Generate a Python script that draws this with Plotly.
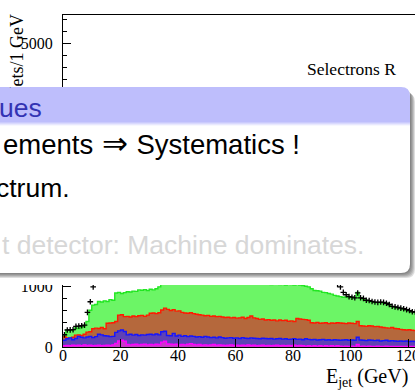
import plotly.graph_objects as go

# ---------------------------------------------------------------- data
# 1 GeV bins, bin i covers [i, i+1)
green_bkg = [180, 280, 275, 285, 315, 305, 330, 355, 420, 605,
             690, 700, 750, 740, 760, 750, 780, 770, 890, 900,
             880, 895, 910, 905, 920, 915, 940, 935, 945, 930,
             950, 940, 960, 990, 1040, 1080, 1110, 1060, 1120, 1090,
             1130, 1100, 1140, 1120, 1150, 1110, 1160, 1130, 1150, 1120,
             1140, 1160, 1130, 1150, 1120, 1140, 1110, 1130, 1100, 1120,
             1090, 1110, 1080, 1100, 1070, 1090, 1060, 1080, 1050, 1070,
             1040, 1060, 1030, 1050, 1040, 1030, 1050, 1020, 1040, 1030,
             1020, 1035, 1020, 1010, 1000, 990, 960, 930, 925, 920,
             900, 895, 880, 870, 850, 840, 830, 820, 825, 815,
             820, 810, 900, 810, 790, 765, 760, 745, 735, 730,
             735, 725, 715, 695, 665, 655, 645, 635, 625, 610,
             595, 575, 570]

red_bkg = [170, 150, 145, 160, 195, 200, 190, 210, 245, 250,
           300, 310, 305, 320, 300, 390, 395, 400, 420, 525,
           530, 500, 505, 495, 510, 500, 515, 520, 505, 525,
           555, 560, 550, 565, 610, 640, 620, 600, 615, 590,
           595, 570, 560, 555, 565, 550, 540, 530, 525, 515,
           520, 505, 510, 500, 505, 495, 485, 490, 480, 485,
           475, 480, 490, 470, 485, 510, 480, 470, 455, 460,
           445, 450, 440, 445, 430, 445, 435, 440, 425, 430,
           420, 470, 460, 455, 450, 440, 400, 395, 405, 390,
           395, 400, 385, 395, 390, 400, 395, 390, 385, 395,
           390, 385, 420, 350, 345, 340, 350, 345, 335, 340,
           330, 320, 315, 310, 320, 305, 300, 290, 285, 280,
           285, 275, 270]

blue_bkg = [110, 135, 150, 120, 140, 175, 160, 150, 165, 175,
            155, 170, 210, 200, 185, 180, 170, 175, 240, 265,
            280, 255, 200, 210, 195, 205, 190, 200, 195, 205,
            210, 200, 215, 200, 250, 260, 190, 185, 225, 180,
            195, 175, 185, 170, 180, 175, 165, 170, 160, 175,
            165, 155, 160, 150, 165, 155, 145, 150, 155, 145,
            150, 140, 155, 145, 140, 150, 145, 140, 135, 145,
            140, 135, 140, 130, 135, 140, 130, 135, 125, 130,
            135, 125, 130, 120, 135, 125, 120, 125, 115, 120,
            125, 115, 120, 110, 120, 115, 110, 115, 120, 110,
            115, 110, 160, 115, 110, 105, 115, 110, 105, 110,
            100, 105, 110, 100, 105, 100, 95, 100, 95, 100,
            90, 95, 90]

magenta_bkg = [20, 25, 20, 30, 25, 30, 20, 35, 25, 30,
               20, 25, 30, 20, 25, 30, 25, 35, 60, 100,
               110, 95, 40, 35, 40, 45, 35, 40, 45, 35,
               40, 35, 45, 40, 80, 95, 50, 45, 40, 45,
               35, 40, 35, 45, 55, 40, 35, 40, 30, 35,
               30, 35, 40, 30, 35, 30, 25, 30, 35, 25,
               30, 25, 30, 25, 35, 25, 30, 20, 25, 30,
               20, 25, 20, 25, 30, 20, 25, 20, 25, 20,
               30, 20, 25, 20, 15, 20, 15, 20, 15, 20,
               15, 20, 15, 20, 15, 20, 15, 10, 15, 10,
               15, 10, 40, 10, 15, 10, 15, 10, 10, 15,
               10, 10, 15, 10, 10, 10, 10, 10, 10, 10,
               10, 10, 10]

data_points = [200, 280, 282, 285, 340, 345, 350, 360, 570, 745,
               990, 1350, 1780, 2150, 2480, 2760, 2950, 3120, 3260, 3330,
               3410, 3380, 3450, 3420, 3480, 3440, 3510, 3470, 3530, 3490,
               3560, 3520, 3540, 3580, 3550, 3600, 3570, 3610, 3580, 3620,
               3590, 3570, 3610, 3560, 3600, 3550, 3580, 3530, 3560, 3510,
               3540, 3490, 3520, 3470, 3500, 3450, 3470, 3420, 3440, 3400,
               3410, 3370, 3380, 3340, 3350, 3300, 3310, 3260, 3270, 3220,
               3230, 3180, 3190, 3140, 3130, 3090, 3070, 3020, 2980, 2920,
               2850, 2760, 2650, 2520, 2370, 2210, 2040, 1870, 1700, 1560,
               1430, 1320, 1220, 1140, 1080, 1030, 990, 900, 860, 830,
               820, 810, 890, 810, 800, 770, 765, 750, 740, 735,
               740, 735, 720, 700, 670, 660, 650, 640, 630, 615,
               600, 580, 575]

x_ticks = [0, 20, 40, 60, 80, 100, 120]
y_ticks = [0, 1000, 2000, 3000, 4000, 5000]

block_title = "ues"
block_lines = ["ements<span style='font-size:31px'> \u21d2 </span>Systematics !",
               "ctrum."]
block_faded = "t detector: Machine dominates."

# ---------------------------------------------------------------- geometry helpers
W, H = 415, 392
ML, MR, MT, MB = 63, 0, 15, 45
PW, PH = W - ML - MR, H - MT - MB
X_MAX = PW / 2.875
Y_MAX = PH / 60.74 * 1000


def px(x):
    return (x - ML) / PW


def py(y):
    return (H - MB - y) / PH


fig = go.Figure()

# histograms drawn back to front
hists = [
    (green_bkg, "#6CF566", "#22E622"),
    (red_bkg, "#B5683C", "#FF1A00"),
    (blue_bkg, "#5E42B4", "#1515FF"),
    (magenta_bkg, "#C838C8", "#FF00FF"),
]
for vals, fillc, linec in hists:
    n = len(vals)
    fig.add_trace(go.Scatter(
        x=list(range(n)) + [n], y=vals + [vals[-1]],
        mode="lines", line=dict(shape="hv", color=linec, width=1.4),
        fill="tozeroy", fillcolor=fillc, hoverinfo="skip"))

fig.add_trace(go.Scatter(
    x=[i + 0.5 for i in range(len(data_points))], y=data_points,
    mode="markers",
    marker=dict(symbol="cross-thin", size=4, color="black",
                line=dict(width=1.3, color="black"))))

serif = "Liberation Serif"
sans = "Liberation Sans"

fig.update_layout(
    width=W, height=H, margin=dict(l=ML, r=MR, t=MT, b=MB, pad=0, autoexpand=False),
    paper_bgcolor="white", plot_bgcolor="white", showlegend=False,
    font=dict(family=serif, color="black"),
    xaxis=dict(range=[0, X_MAX], showline=True, linecolor="black", linewidth=1,
               mirror=True, ticks="inside", ticklen=8, tickcolor="black",
               tickvals=x_ticks, ticktext=[str(v) for v in x_ticks],
               tickfont=dict(family=serif, size=16, color="black"),
               ticklabeloverflow="allow", automargin=False,
               showgrid=False, zeroline=False, ticklabelstandoff=-6),
    yaxis=dict(range=[0, Y_MAX], showline=True, linecolor="black", linewidth=1,
               ticks="inside", ticklen=8, tickcolor="black",
               tickvals=y_ticks, ticktext=[str(v) for v in y_ticks],
               tickfont=dict(family=serif, size=16, color="black"),
               minor=dict(dtick=200, ticks="inside", ticklen=4, tickcolor="black"),
               ticklabeloverflow="allow", automargin=False,
               showgrid=False, zeroline=False, ticklabelstandoff=6),
)

# ---------------------------------------------------------------- overlay block
BL, BR, BT, BB, RAD = -40, 410, 87, 273, 9
HEAD_B = 122
lavender = "rgb(190,190,252)"


def rounded_path(l, r, t, b, rad):
    return (f"M {px(l)},{py(t)} L {px(r - rad)},{py(t)} "
            f"Q {px(r)},{py(t)} {px(r)},{py(t + rad)} "
            f"L {px(r)},{py(b - rad)} Q {px(r)},{py(b)} {px(r - rad)},{py(b)} "
            f"L {px(l)},{py(b)} Z")


shapes = []
# white strip under the block
shapes.append(dict(type="rect", xref="paper", yref="paper", layer="above",
                   x0=px(-5), x1=px(W + 5), y0=py(BB), y1=py(285),
                   fillcolor="white", line=dict(width=0)))
# soft drop shadow
for k in range(1, 6):
    shapes.append(dict(type="path", xref="paper", yref="paper", layer="above",
                       path=rounded_path(BL, BR + k, BT + k + 1, BB + k, RAD),
                       fillcolor="rgba(50,50,50,0.16)", line=dict(width=0)))
# block body
shapes.append(dict(type="path", xref="paper", yref="paper", layer="above",
                   path=rounded_path(BL, BR, BT, BB, RAD),
                   fillcolor="white", line=dict(width=0)))
# block header
head_path = (f"M {px(BL)},{py(BT)} L {px(BR - RAD)},{py(BT)} "
             f"Q {px(BR)},{py(BT)} {px(BR)},{py(BT + RAD)} "
             f"L {px(BR)},{py(HEAD_B)} L {px(BL)},{py(HEAD_B)} Z")
shapes.append(dict(type="path", xref="paper", yref="paper", layer="above",
                   path=head_path, fillcolor=lavender, line=dict(width=0)))
for i, c in enumerate(["rgb(203,203,253)", "rgb(218,218,254)",
                       "rgb(233,233,254)", "rgb(247,247,255)"]):
    shapes.append(dict(type="rect", xref="paper", yref="paper", layer="above",
                       x0=px(BL), x1=px(BR), y0=py(HEAD_B + i), y1=py(HEAD_B + i + 1),
                       fillcolor=c, line=dict(width=0)))
fig.update_layout(shapes=shapes)

ann = []
# axis titles and label
ann.append(dict(text="Jets/1 GeV", textangle=-90, xref="paper", yref="paper",
                x=px(16.5), y=py(54), xanchor="center", yanchor="middle", showarrow=False,
                font=dict(family=serif, size=18, color="black")))
ann.append(dict(text="E<sub>jet</sub> (GeV)", xref="paper", yref="paper",
                x=px(410), y=py(392), xanchor="right", yanchor="bottom", showarrow=False,
                font=dict(family=serif, size=20, color="black")))
ann.append(dict(text="Selectrons R", xref="paper", yref="paper",
                x=px(398), y=py(69), xanchor="right", yanchor="middle", showarrow=False,
                font=dict(family=serif, size=17.5, color="black")))
# header patch over the title end, then block text
ann.append(dict(text=" ", xref="paper", yref="paper", x=px(0), y=py(BT),
                xanchor="left", yanchor="top", width=40, height=HEAD_B - BT - 2,
                bgcolor=lavender, borderpad=0, showarrow=False))
ann.append(dict(text=block_title, xref="paper", yref="paper",
                x=px(44), y=py(108), xanchor="right", yanchor="middle", showarrow=False,
                font=dict(family=sans, size=26.5, color="rgb(51,51,179)")))
ann.append(dict(text=block_lines[0], xref="paper", yref="paper",
                x=px(302), y=py(143), xanchor="right", yanchor="middle", showarrow=False,
                font=dict(family=sans, size=27.5, color="black")))
ann.append(dict(text=block_lines[1], xref="paper", yref="paper",
                x=px(72), y=py(188), xanchor="right", yanchor="middle", showarrow=False,
                font=dict(family=sans, size=26.5, color="black")))
ann.append(dict(text=block_faded, xref="paper", yref="paper",
                x=px(366), y=py(245), xanchor="right", yanchor="middle", showarrow=False,
                font=dict(family=sans, size=26.5, color="rgb(215,215,215)")))
fig.update_layout(annotations=ann)

fig.write_html("out.html")
